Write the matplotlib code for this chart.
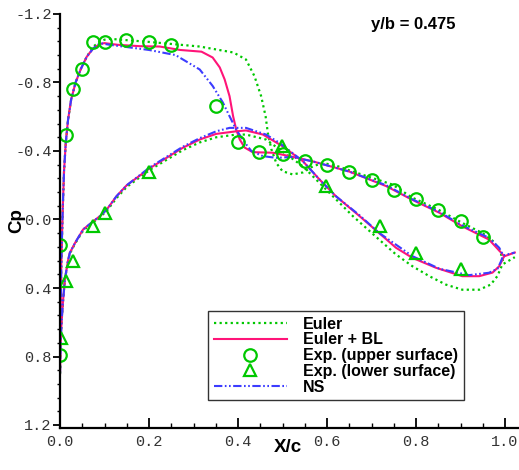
import matplotlib
matplotlib.use("Agg")
import matplotlib.pyplot as plt
from matplotlib.ticker import MultipleLocator, FuncFormatter

# ---------------- data ----------------
# Euler (green dotted)
euler_up_x = [0.0, 0.001, 0.003, 0.006, 0.009, 0.013, 0.018, 0.025, 0.035, 0.047, 0.06, 0.075, 0.09,
              0.1, 0.112, 0.2, 0.314, 0.39, 0.418, 0.437, 0.452, 0.462, 0.467, 0.475, 0.486, 0.5,
              0.523, 0.546, 0.568, 0.59, 0.62, 0.658, 0.747, 0.79, 0.852, 0.904, 0.95, 0.975, 0.99, 0.996]
euler_up_cp = [0.90, 0.60, 0.25, -0.05, -0.28, -0.45, -0.58, -0.70, -0.80, -0.88, -0.95, -1.01, -1.04,
               -1.05, -1.055, -1.037, -1.01, -0.975, -0.934, -0.837, -0.72, -0.603, -0.506, -0.41, -0.33, -0.282,
               -0.263, -0.275, -0.31, -0.33, -0.315, -0.28, -0.204, -0.13, -0.055, 0.02, 0.08, 0.13, 0.19, 0.25]
euler_lo_x = [0.0, 0.001, 0.002, 0.004, 0.007, 0.011, 0.018, 0.022, 0.034, 0.052, 0.075, 0.09, 0.105,
              0.127, 0.15, 0.202, 0.276, 0.314, 0.351, 0.396, 0.418, 0.463, 0.493, 0.546, 0.6, 0.658,
              0.717, 0.755, 0.792, 0.83, 0.867, 0.904, 0.942, 0.968, 0.983, 0.994, 1.022]
euler_lo_cp = [0.90, 0.75, 0.68, 0.58, 0.47, 0.35, 0.245, 0.20, 0.14, 0.065, 0.015, -0.015, -0.05,
               -0.125, -0.19, -0.29, -0.405, -0.45, -0.48, -0.496, -0.496, -0.467, -0.41, -0.31, -0.17, -0.02,
               0.117, 0.204, 0.273, 0.331, 0.38, 0.41, 0.41, 0.38, 0.33, 0.263, 0.22]

# Euler + BL (pink solid)
bl_up_x = [0.0, 0.001, 0.003, 0.006, 0.009, 0.013, 0.018, 0.025, 0.035, 0.047, 0.06, 0.075, 0.09,
           0.1, 0.13, 0.18, 0.224, 0.27, 0.318, 0.343, 0.359, 0.37, 0.381, 0.389, 0.396, 0.404,
           0.415, 0.433, 0.478, 0.516, 0.567, 0.65, 0.733, 0.79, 0.852, 0.904, 0.964, 0.99, 0.998]
bl_up_cp = [0.90, 0.60, 0.25, -0.05, -0.28, -0.45, -0.58, -0.70, -0.80, -0.88, -0.95, -1.0, -1.025,
            -1.03, -1.02, -1.012, -1.01, -0.99, -0.98, -0.946, -0.888, -0.818, -0.72, -0.603, -0.525, -0.467,
            -0.42, -0.393, -0.39, -0.37, -0.34, -0.28, -0.195, -0.117, -0.04, 0.04, 0.117, 0.19, 0.215]
bl_lo_x = [0.0, 0.001, 0.002, 0.004, 0.007, 0.011, 0.018, 0.022, 0.034, 0.052, 0.075, 0.09, 0.105,
           0.127, 0.15, 0.202, 0.276, 0.314, 0.351, 0.396, 0.418, 0.456, 0.5, 0.546, 0.583, 0.62,
           0.673, 0.725, 0.755, 0.792, 0.845, 0.904, 0.942, 0.972, 0.987, 0.998, 1.022]
bl_lo_cp = [0.90, 0.75, 0.68, 0.58, 0.47, 0.35, 0.24, 0.195, 0.136, 0.058, 0.01, -0.02, -0.058,
            -0.136, -0.2, -0.30, -0.419, -0.467, -0.50, -0.515, -0.52, -0.496, -0.428, -0.34, -0.234, -0.136,
            -0.02, 0.097, 0.165, 0.224, 0.282, 0.331, 0.331, 0.31, 0.273, 0.215, 0.193]

# NS (blue dash-dot-dot)
ns_up_x = [0.0, 0.001, 0.003, 0.006, 0.009, 0.013, 0.018, 0.025, 0.035, 0.047, 0.06, 0.075, 0.09,
           0.112, 0.2, 0.26, 0.27, 0.314, 0.343, 0.366, 0.381, 0.396, 0.415, 0.43, 0.456, 0.486,
           0.52, 0.567, 0.65, 0.733, 0.79, 0.852, 0.904, 0.964, 0.987, 0.996]
ns_up_cp = [0.90, 0.60, 0.25, -0.05, -0.28, -0.45, -0.58, -0.70, -0.80, -0.88, -0.95, -1.0, -1.03,
            -1.02, -0.99, -0.96, -0.944, -0.876, -0.78, -0.683, -0.603, -0.525, -0.45, -0.40, -0.37, -0.36,
            -0.365, -0.34, -0.28, -0.2, -0.12, -0.045, 0.035, 0.107, 0.165, 0.21]
ns_lo_x = [0.0, 0.001, 0.002, 0.004, 0.007, 0.011, 0.018, 0.022, 0.034, 0.052, 0.075, 0.09, 0.105,
           0.127, 0.15, 0.202, 0.276, 0.314, 0.351, 0.381, 0.418, 0.463, 0.493, 0.546, 0.583, 0.62,
           0.673, 0.717, 0.792, 0.853, 0.919, 0.964, 0.983, 0.99, 0.996, 1.022]
ns_lo_cp = [0.90, 0.75, 0.68, 0.58, 0.47, 0.35, 0.24, 0.195, 0.136, 0.058, 0.01, -0.02, -0.058,
            -0.136, -0.2, -0.305, -0.425, -0.475, -0.515, -0.535, -0.535, -0.496, -0.448, -0.34, -0.234, -0.136,
            -0.025, 0.078, 0.214, 0.288, 0.325, 0.311, 0.288, 0.25, 0.21, 0.193]

# Experiment
exp_up_x = [0.0, 0.001, 0.014, 0.03, 0.05, 0.075, 0.1, 0.148, 0.2, 0.249, 0.35, 0.399, 0.448,
            0.5, 0.55, 0.6, 0.65, 0.7, 0.75, 0.8, 0.85, 0.9, 0.95]
exp_up_cp = [0.79, 0.15, -0.495, -0.76, -0.88, -1.035, -1.035, -1.05, -1.035, -1.02, -0.665, -0.455, -0.395,
             -0.38, -0.34, -0.32, -0.28, -0.23, -0.175, -0.117, -0.055, 0.01, 0.10]
exp_lo_x = [0.003, 0.014, 0.03, 0.075, 0.1, 0.2, 0.498, 0.598, 0.72, 0.8, 0.9]
exp_lo_cp = [0.69, 0.36, 0.24, 0.04, -0.04, -0.28, -0.43, -0.195, 0.04, 0.195, 0.29]

labels = ["Euler", "Euler + BL", "Exp. (upper surface)", "Exp. (lower surface)", "NS"]
x_ticks = [0.0, 0.2, 0.4, 0.6, 0.8, 1.0]
y_ticks = [-1.2, -0.8, -0.4, 0.0, 0.4, 0.8, 1.2]

# ---------------- style ----------------
GREEN = "#00c800"
PINK = "#ff1478"
BLUE = "#3c3cff"
W, H = 519, 470

fig = plt.figure(figsize=(W / 100, H / 100), dpi=100)
ax = fig.add_axes([60 / W, 1 - 428 / H, 1 - 60 / W, (428 - 14) / H])

euler_ls = (0, (1, 1.5))
ns_ls = (0, (4, 1.2, 0.8, 1.2, 0.8, 1.2))

l_e, = ax.plot(euler_up_x, euler_up_cp, color=GREEN, lw=1.6, ls=euler_ls)
ax.plot(euler_lo_x, euler_lo_cp, color=GREEN, lw=1.6, ls=euler_ls)
l_bl, = ax.plot(bl_up_x, bl_up_cp, color=PINK, lw=1.5)
ax.plot(bl_lo_x, bl_lo_cp, color=PINK, lw=1.5)
l_ns, = ax.plot(ns_up_x, ns_up_cp, color=BLUE, lw=1.5, ls=ns_ls)
ax.plot(ns_lo_x, ns_lo_cp, color=BLUE, lw=1.5, ls=ns_ls)
l_eu, = ax.plot(exp_up_x, exp_up_cp, ls="none", marker="o", ms=9, mfc="none", mec=GREEN, mew=1.6)
l_el, = ax.plot(exp_lo_x, exp_lo_cp, ls="none", marker="^", ms=9, mfc="none", mec=GREEN, mew=1.6)

ax.set_xlim(0, (W - 60) / 445.0)
ax.set_ylim(1.2 + 3 / 171.25, -1.2)

for s in ("top", "right"):
    ax.spines[s].set_visible(False)
for s in ("left", "bottom"):
    ax.spines[s].set_linewidth(1.6)
    ax.spines[s].set_color("black")

ax.set_xticks(x_ticks)
ax.set_yticks(y_ticks)
ax.xaxis.set_minor_locator(MultipleLocator(0.05))
ax.yaxis.set_minor_locator(MultipleLocator(0.08))
fmt = FuncFormatter(lambda v, p: ("%.1f" % v).replace("-0.0", "0.0"))
ax.xaxis.set_major_formatter(fmt)
ax.yaxis.set_major_formatter(fmt)

ax.tick_params(axis="x", which="major", direction="in", length=7, width=1.3, pad=5)
ax.tick_params(axis="x", which="minor", direction="in", length=3.6, width=1.0)
ax.tick_params(axis="y", which="major", direction="out", length=5, width=1.3, pad=1)
ax.tick_params(axis="y", which="minor", direction="out", length=2.5, width=1.0)
for lab in ax.get_xticklabels() + ax.get_yticklabels():
    lab.set_fontfamily("Liberation Mono")
    lab.set_fontsize(11)
    lab.set_color("#333333")

fig.text(287.5 / W, 1 - 447 / H, "X/c", ha="center", va="center",
         fontfamily="Liberation Sans", fontweight="bold", fontsize=13.5)
fig.text(17 / W, 1 - 221 / H, "Cp", ha="center", va="center", rotation=90,
         fontfamily="Liberation Sans", fontweight="bold", fontsize=13.5)
fig.text(413 / W, 1 - 24 / H, "y/b = 0.475", ha="center", va="center",
         fontfamily="Liberation Sans", fontweight="bold", fontsize=12)

leg = fig.legend([l_e, l_bl, l_eu, l_el, l_ns], labels,
                 loc="upper left", bbox_to_anchor=(208 / W, 1 - 311 / H),
                 bbox_transform=fig.transFigure, borderaxespad=0,
                 frameon=True, fancybox=False, shadow=False, numpoints=1,
                 handlelength=4.6, handletextpad=1.0, labelspacing=0.05,
                 borderpad=0.35, prop={"family": "Liberation Sans", "weight": "bold", "size": 11.5})
leg.get_frame().set_edgecolor("black")
leg.get_frame().set_linewidth(1.0)

fig.savefig("out.png", dpi=100)
